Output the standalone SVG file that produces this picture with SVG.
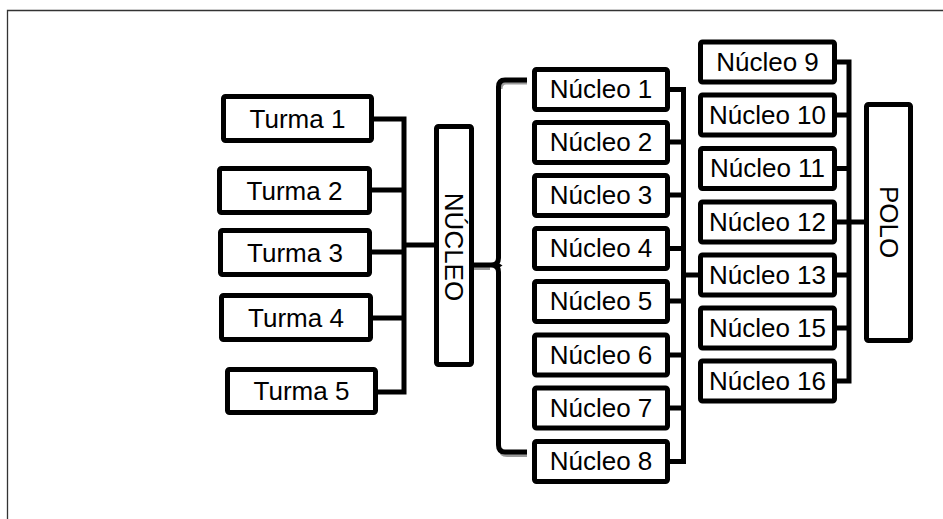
<svg xmlns="http://www.w3.org/2000/svg" width="943" height="519" viewBox="0 0 943 519">
<style>
.box{fill:#fff;stroke:#000;stroke-width:5;}
.lbl{font-family:"Liberation Sans",Arial,sans-serif;font-size:26px;fill:#000;text-anchor:middle;}
.ln{fill:none;stroke:#000;stroke-width:5;stroke-linecap:butt;}
.sh{fill:none;stroke:#9a9a9a;stroke-width:4;}
</style>
<rect x="0" y="0" width="943" height="519" fill="#fff"/>
<path d="M7.5,519 V10.5 H943" fill="none" stroke="#333" stroke-width="1.3"/>
<g id="connectors">
  <path class="ln" d="M374,119 H404 M372,190 H404 M372,252 H404 M373,318 H404 M378,392 H404 M404,116.5 V394.5"/>
  <path class="ln" d="M404,245 H436"/>
  <path class="sh" d="M527,82.5 H506 Q500.5,82.5 500.5,89 M474,268 H490 M500.5,448 Q500.5,455 507,455 H527"/>
  <path class="ln" d="M527,80 H505 Q498.5,80 498.5,87 V258 Q498.5,265 491,265 H474 M491,265 Q498.5,265 498.5,272 V445 Q498.5,452 505,452 H527"/>
  <path d="M497,262 L502.5,265.5 L497,269 Z" fill="#000"/>
  <path class="ln" d="M670,89.5 H683.5 M670,142 H683.5 M670,195 H683.5 M670,248.5 H683.5 M670,301 H683.5 M670,355 H683.5 M670,408 H683.5 M670,461.5 H683.5 M683.5,87 V464"/>
  <path class="ln" d="M683.5,275 H700"/>
  <path class="ln" d="M837,62 H849 M837,115 H849 M837,168.5 H849 M837,222 H849 M837,275 H849 M837,328 H849 M837,381 H849 M849,59.5 V383.5"/>
  <path class="ln" d="M849,222 H866"/>
</g>
<g id="turma1"><rect class="box" x="223.5" y="96.5" width="148" height="44" rx="2"/><text class="lbl" x="297.5" y="127.5">Turma 1</text></g>
<g id="turma2"><rect class="box" x="219.5" y="168.5" width="150" height="44" rx="2"/><text class="lbl" x="294.5" y="199.5">Turma 2</text></g>
<g id="turma3"><rect class="box" x="220.5" y="230.5" width="149" height="44" rx="2"/><text class="lbl" x="295" y="261.5">Turma 3</text></g>
<g id="turma4"><rect class="box" x="221.5" y="295.5" width="149" height="44" rx="2"/><text class="lbl" x="296" y="326.5">Turma 4</text></g>
<g id="turma5"><rect class="box" x="227.5" y="369.5" width="148" height="43" rx="2"/><text class="lbl" x="301.5" y="400">Turma 5</text></g>
<g id="nucleo"><rect class="box" x="436.5" y="126.5" width="35" height="238" rx="2"/><text class="lbl" transform="translate(454,247) rotate(90)" y="9">NÚCLEO</text></g>
<g id="n1"><rect class="box" x="534.5" y="69.5" width="133" height="40" rx="2"/><text class="lbl" x="601" y="98">Núcleo 1</text></g>
<g id="n2"><rect class="box" x="534.5" y="122.5" width="133" height="40" rx="2"/><text class="lbl" x="601" y="151">Núcleo 2</text></g>
<g id="n3"><rect class="box" x="534.5" y="175.5" width="133" height="40" rx="2"/><text class="lbl" x="601" y="204">Núcleo 3</text></g>
<g id="n4"><rect class="box" x="534.5" y="228.5" width="133" height="40" rx="2"/><text class="lbl" x="601" y="257">Núcleo 4</text></g>
<g id="n5"><rect class="box" x="534.5" y="281.5" width="133" height="40" rx="2"/><text class="lbl" x="601" y="310">Núcleo 5</text></g>
<g id="n6"><rect class="box" x="534.5" y="335" width="133" height="40" rx="2"/><text class="lbl" x="601" y="363.5">Núcleo 6</text></g>
<g id="n7"><rect class="box" x="534.5" y="388" width="133" height="40" rx="2"/><text class="lbl" x="601" y="416.5">Núcleo 7</text></g>
<g id="n8"><rect class="box" x="534.5" y="441.5" width="133" height="40" rx="2"/><text class="lbl" x="601" y="470">Núcleo 8</text></g>
<g id="n9"><rect class="box" x="700.5" y="42" width="134" height="40" rx="2"/><text class="lbl" x="767.5" y="70.5">Núcleo 9</text></g>
<g id="n10"><rect class="box" x="700.5" y="95" width="134" height="40" rx="2"/><text class="lbl" x="767.5" y="123.5">Núcleo 10</text></g>
<g id="n11"><rect class="box" x="700.5" y="148.5" width="134" height="40" rx="2"/><text class="lbl" x="767.5" y="177">Núcleo 11</text></g>
<g id="n12"><rect class="box" x="700.5" y="202" width="134" height="40" rx="2"/><text class="lbl" x="767.5" y="230.5">Núcleo 12</text></g>
<g id="n13"><rect class="box" x="700.5" y="255" width="134" height="40" rx="2"/><text class="lbl" x="767.5" y="283.5">Núcleo 13</text></g>
<g id="n15"><rect class="box" x="700.5" y="308" width="134" height="40" rx="2"/><text class="lbl" x="767.5" y="336.5">Núcleo 15</text></g>
<g id="n16"><rect class="box" x="700.5" y="361" width="134" height="40" rx="2"/><text class="lbl" x="767.5" y="389.5">Núcleo 16</text></g>
<g id="polo"><rect class="box" x="866.5" y="104.5" width="44" height="236" rx="2"/><text class="lbl" transform="translate(889,222) rotate(90)" y="9">POLO</text></g>
</svg>
